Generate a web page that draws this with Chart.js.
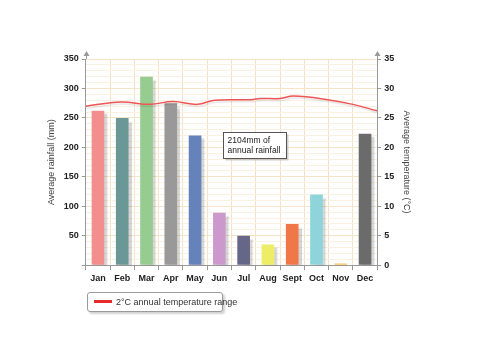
<!DOCTYPE html>
<html>
<head>
<meta charset="utf-8">
<script src="https://cdn.jsdelivr.net/npm/chart.js@4/dist/chart.umd.min.js"></script>
<style>
  body { margin: 0; background: #fff; }
  #wrap { position: relative; width: 500px; height: 354px; }
  #legend {
    position: absolute; left: 87px; top: 292px; width: 134px; height: 18px;
    border: 1px solid #9a9a9a; border-radius: 3px; background: #fff;
    box-shadow: 2px 2px 2px rgba(0,0,0,0.18);
    font: 9px "Liberation Sans", Arial, sans-serif; color: #333;
    line-height: 18px; white-space: nowrap;
  }
  #legend span.sw { display: inline-block; width: 18px; height: 3px; background: #e52b2b; vertical-align: middle; margin: 0 4px 0 6px; position: relative; top: -1px; }
</style>
</head>
<body>
<div id="wrap">
  <canvas id="climate" width="500" height="354"></canvas>
  <div id="legend"><span class="sw"></span>2°C annual temperature range</div>
</div>
<script>
var months = ['Jan', 'Feb', 'Mar', 'Apr', 'May', 'Jun', 'Jul', 'Aug', 'Sept', 'Oct', 'Nov', 'Dec'];
var rainfall = [262, 250, 320, 275, 220, 89, 50, 35, 70, 120, 3, 223];
var barColors = ['#f28e8e', '#6a9896', '#96cc90', '#999999', '#6582bb', '#cc99cc',
                 '#666688', '#eeee66', '#f07848', '#8ed4da', '#f5c058', '#6b6b6b'];
// temperature curve, x in month units across the whole year (0 = start of Jan, 12 = end of Dec)
var tempX = [0, 1.45, 2.65, 3.6, 4.6, 5.3, 6.8, 7.2, 8.0, 8.55, 9.95, 11.0, 12];
var tempVals = [27.0, 27.7, 27.3, 27.8, 27.3, 28.0, 28.1, 28.3, 28.3, 28.7, 28.1, 27.3, 26.2];
var rainTicks = [0, 50, 100, 150, 200, 250, 300, 350];
var tempTicks = [0, 5, 10, 15, 20, 25, 30, 35];

var tickFont = { family: 'Liberation Sans', size: 9, weight: 'bold' };
var titleFont = { family: 'Liberation Sans', size: 9 };

var tempPoints = tempX.map(function (x, i) { return { x: x, y: tempVals[i] }; });

var shadowPlugin = {
  id: 'shadows',
  beforeDatasetDraw: function (chart, args) {
    var ctx = chart.ctx;
    var isLine = args.meta.type === 'line';
    ctx.save();
    ctx.shadowColor = isLine ? 'rgba(0,0,0,0.10)' : 'rgba(0,0,0,0.16)';
    ctx.shadowOffsetX = isLine ? 1 : 3;
    ctx.shadowOffsetY = isLine ? 2 : 3;
    ctx.shadowBlur = 1;
  },
  afterDatasetDraw: function (chart) {
    chart.ctx.restore();
  }
};

var extrasPlugin = {
  id: 'extras',
  afterDraw: function (chart) {
    var ctx = chart.ctx, a = chart.chartArea;
    ctx.save();
    // axis arrows
    ctx.strokeStyle = '#999';
    ctx.fillStyle = '#999';
    ctx.lineWidth = 1;
    [a.left, a.right].forEach(function (x) {
      x = Math.round(x) + 0.5;
      ctx.beginPath();
      ctx.moveTo(x, a.top);
      ctx.lineTo(x, a.top - 5);
      ctx.stroke();
      ctx.beginPath();
      ctx.moveTo(x - 3, a.top - 3);
      ctx.lineTo(x, a.top - 8);
      ctx.lineTo(x + 3, a.top - 3);
      ctx.closePath();
      ctx.fill();
    });
    // annotation box
    var x2 = chart.scales.x2, y = chart.scales.y;
    var bx = Math.round(x2.getPixelForValue(5.65)) + 0.5;
    var by = Math.round(y.getPixelForValue(226)) + 0.5;
    ctx.shadowColor = 'rgba(0,0,0,0.18)';
    ctx.shadowOffsetX = 2;
    ctx.shadowOffsetY = 2;
    ctx.fillStyle = '#fff';
    ctx.fillRect(bx, by, 63, 26);
    ctx.shadowColor = 'transparent';
    ctx.strokeStyle = '#555';
    ctx.strokeRect(bx, by, 63, 26);
    ctx.fillStyle = '#222';
    ctx.font = '8.5px "Liberation Sans"';
    ctx.textBaseline = 'middle';
    ctx.fillText('2104mm of', bx + 4, by + 8);
    ctx.fillText('annual rainfall', bx + 4, by + 18);
    ctx.restore();
  }
};

new Chart(document.getElementById('climate'), {
  data: {
    labels: months,
    datasets: [{
      type: 'line',
      label: '2°C annual temperature range',
      data: tempPoints,
      xAxisID: 'x2',
      yAxisID: 'y1',
      borderColor: '#ee5555',
      borderWidth: 1.5,
      pointRadius: 0,
      tension: 0.4,
      fill: false
    }, {
      type: 'bar',
      label: 'Average rainfall',
      data: rainfall,
      xAxisID: 'x',
      yAxisID: 'y',
      backgroundColor: barColors,
      grouped: false,
      barPercentage: 0.6,
      categoryPercentage: 0.87
    }]
  },
  options: {
    responsive: false,
    animation: false,
    layout: { padding: { left: 42, right: 84, top: 59, bottom: 67 } },
    plugins: {
      legend: { display: false },
      tooltip: { enabled: false }
    },
    scales: {
      x: {
        type: 'category',
        offset: true,
        grid: {
          offset: true,
          color: '#f5e2c4',
          tickColor: '#999',
          tickLength: 5
        },
        border: { color: '#999' },
        ticks: { font: tickFont, color: '#222', padding: 3, maxRotation: 0, autoSkip: false }
      },
      x2: {
        type: 'linear',
        min: 0,
        max: 12,
        display: false
      },
      y: {
        position: 'left',
        min: 0,
        max: 350,
        grid: {
          color: function (c) { return c.tick.value % 50 === 0 ? '#f6e4c8' : '#faf1e3'; },
          tickColor: function (c) { return c.tick.value % 50 === 0 ? '#999' : 'rgba(0,0,0,0)'; },
          tickLength: 4
        },
        border: { color: '#999' },
        afterBuildTicks: function (axis) {
          var t = [];
          for (var v = 0; v <= 350; v += 10) t.push({ value: v });
          axis.ticks = t;
        },
        ticks: {
          autoSkip: false,
          font: tickFont,
          color: '#222',
          padding: 3,
          callback: function (v) { return (v !== 0 && rainTicks.indexOf(v) >= 0) ? v : ''; }
        },
        title: { display: true, text: 'Average rainfall (mm)', font: titleFont, color: '#444' }
      },
      y1: {
        position: 'right',
        min: 0,
        max: 35,
        grid: { drawOnChartArea: false, tickColor: '#999', tickLength: 4 },
        border: { color: '#999' },
        afterBuildTicks: function (axis) {
          axis.ticks = tempTicks.map(function (v) { return { value: v }; });
        },
        ticks: { font: tickFont, color: '#222', padding: 3 },
        title: { display: true, text: 'Average temperature (°C)', font: titleFont, color: '#444' }
      }
    }
  },
  plugins: [shadowPlugin, extrasPlugin]
});
</script>
</body>
</html>
